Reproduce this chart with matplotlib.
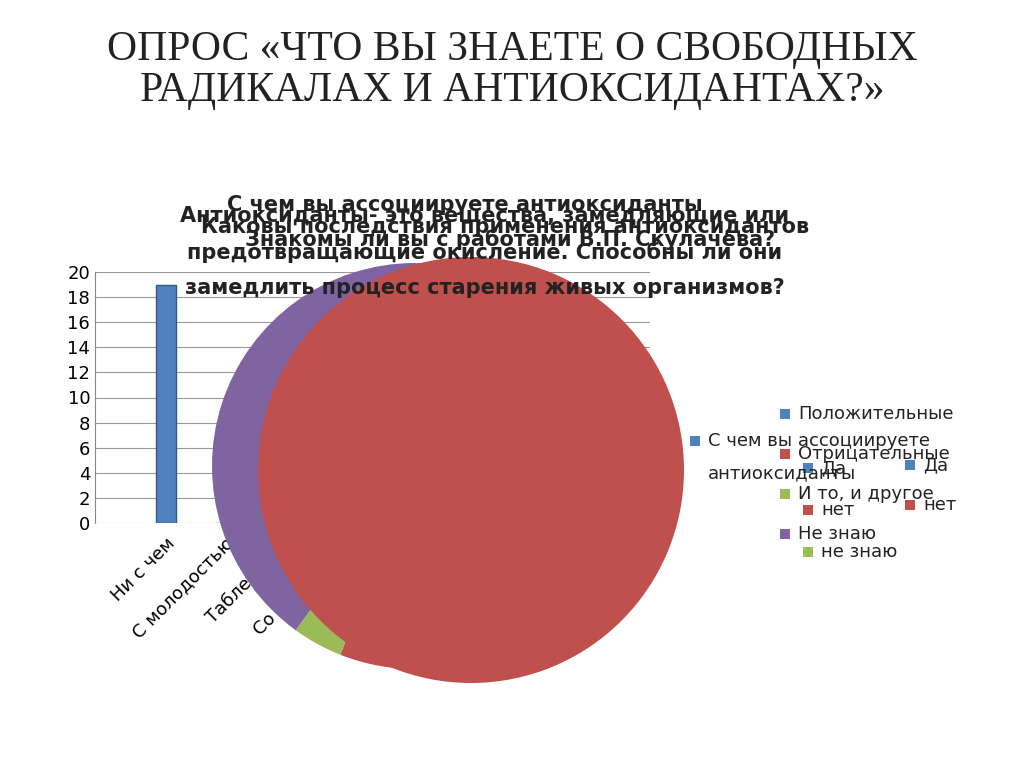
import matplotlib
matplotlib.use("Agg")
import matplotlib.pyplot as plt
from matplotlib.patches import Rectangle

bar_cats = ["Ни с чем", "С молодостью", "Таблетками", "Со здоровьем"]
bar_vals = [19, 0, 0, 0]
yticks = list(range(0, 21, 2))

pie1_labels = ["Положительные", "Отрицательные", "И то, и другое", "Не знаю"]
pie1_vals = [1, 20, 1.5, 15]
pie1_colors = ["#4F81BD", "#C0504D", "#9BBB59", "#8064A2"]

pie2_labels = ["Да", "нет", "не знаю"]
pie2_vals = [0, 25, 0]
pie2_colors = ["#4F81BD", "#C0504D", "#9BBB59"]

W, H = 1024, 767
fig = plt.figure(figsize=(10.24, 7.67), dpi=100)
def fx(x): return x / W
def fy(y): return 1 - y / H

fig.text(0.5, fy(70), "ОПРОС «ЧТО ВЫ ЗНАЕТЕ О СВОБОДНЫХ\nРАДИКАЛАХ И АНТИОКСИДАНТАХ?»",
         ha="center", va="center", family="Liberation Serif", fontsize=30, color="#222222",
         linespacing=1.1)

# bar chart
ax = fig.add_axes([fx(95), fy(523), fx(650 - 95), (523 - 272) / H])
ax.bar(range(len(bar_vals)), bar_vals, width=0.35, color="#4F81BD", edgecolor="#2C5A8C")
ax.set_xlim(-1.2, 8.2)
ax.set_ylim(0, 20)
ax.set_yticks(yticks)
ax.tick_params(axis="y", labelsize=13, length=0)
ax.set_xticks(range(len(bar_cats)))
ax.set_xticklabels(bar_cats, rotation=45, ha="right", rotation_mode="anchor", fontsize=13)
ax.tick_params(axis="x", length=0, pad=8)
ax.yaxis.grid(True, color="#999999", lw=0.8)
ax.set_axisbelow(True)
for s in ["top", "right", "bottom"]:
    ax.spines[s].set_visible(False)
ax.spines["left"].set_color("#888888")

def pie_ax(cx, cy, r):
    return fig.add_axes([fx(cx - r), fy(cy + r), 2 * r / W, 2 * r / H])

# pie 1 (behind)
pax1 = pie_ax(415, 466, 203)
pax1.pie(pie1_vals, colors=pie1_colors, startangle=90, counterclock=False,
         wedgeprops=dict(edgecolor="none"))
pax1.set_aspect("auto"); pax1.set_xlim(-1, 1); pax1.set_ylim(-1, 1)

# pie 2 (front)
pax2 = pie_ax(471, 470, 213)
pax2.pie([v if v > 0 else 1e-9 for v in pie2_vals], colors=pie2_colors, startangle=90,
         counterclock=False, wedgeprops=dict(edgecolor="none"))
pax2.set_aspect("auto"); pax2.set_xlim(-1, 1); pax2.set_ylim(-1, 1)

# overlapping titles
tkw = dict(ha="center", va="center", fontsize=15, fontweight="bold", color="#222222")
fig.text(fx(485), fy(252), "Антиоксиданты- это вещества, замедляющие или\nпредотвращающие окисление. Способны ли они\nзамедлить процесс старения живых организмов?", linespacing=1.95, **tkw)
fig.text(fx(505), fy(227), "Каковы последствия применения антиоксидантов", **tkw)
fig.text(fx(465), fy(205), "С чем вы ассоциируете антиоксиданты", **tkw)
fig.text(fx(510), fy(240), "Знакомы ли вы с работами В.П. Скулачева?", **tkw)

def leg(x, y, color, label):
    fig.patches.append(Rectangle((fx(x), fy(y + 5)), 10 / W, 10 / H, transform=fig.transFigure,
                                 facecolor=color, edgecolor="none"))
    fig.text(fx(x + 18), fy(y), label, ha="left", va="center", fontsize=13, color="#222222")

for i, (l, c) in enumerate(zip(pie1_labels, pie1_colors)):
    leg(780, 414 + i * 40, c, l)
leg(690, 441, "#4F81BD", "С чем вы ассоциируете")
fig.text(fx(708), fy(473), "антиоксиданты", ha="left", va="center", fontsize=13, color="#222222")
for i, (l, c) in enumerate(zip(pie2_labels, pie2_colors)):
    leg(803, 468 + i * 42, c, l)
leg(905, 465, "#4F81BD", pie2_labels[0])
leg(905, 505, "#C0504D", pie2_labels[1])

fig.savefig("out.png", dpi=100)
